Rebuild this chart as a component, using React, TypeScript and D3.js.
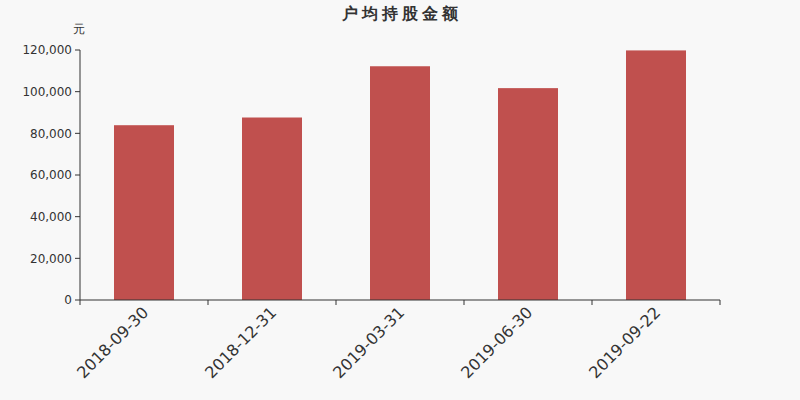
import React from "react";
import * as d3 from "d3";

const categories = ["2018-09-30", "2018-12-31", "2019-03-31", "2019-06-30", "2019-09-22"];
const values = [83900, 87600, 112200, 101700, 119800];
const yTicks = [0, 20000, 40000, 60000, 80000, 100000, 120000];

export default function App() {
  const W = 800, H = 400;
  const left = 80, right = 720, top = 50, bottom = 300;
  const x = d3.scaleBand<string>().domain(categories).range([left, right]).paddingInner(0).paddingOuter(0);
  const y = d3.scaleLinear().domain([0, 120000]).range([bottom, top]);
  const barW = 60;
  const fmt = d3.format(",");
  const font = "DejaVu Sans, sans-serif";
  const edges = categories.map((c) => x(c)!).concat([right]);
  return (
    <svg width={W} height={H} style={{ position: "absolute", left: 0, top: 0, background: "#f8f8f8" }}>
      <rect x={0} y={0} width={W} height={H} fill="#f8f8f8" />
      <text x={402} y={19} textAnchor="middle" fontFamily={font} fontSize={16} fontWeight="bold" letterSpacing={4} fill="#333">户均持股金额</text>
      <text x={79} y={33} textAnchor="middle" fontFamily={font} fontSize={12} fill="#333">元</text>
      {categories.map((c, i) => {
        const cx = x(c)! + x.bandwidth() / 2;
        return (
          <rect key={c} x={cx - barW / 2} y={y(values[i])} width={barW} height={bottom - y(values[i])} fill="#c0504e" />
        );
      })}
      <line x1={left} x2={left} y1={top} y2={bottom} stroke="#333" />
      {yTicks.map((t) => (
        <g key={t}>
          <line x1={left - 5} x2={left} y1={y(t)} y2={y(t)} stroke="#333" />
          <text x={left - 8} y={y(t)} dy="0.35em" textAnchor="end" fontFamily={font} fontSize={12} fill="#333">{fmt(t)}</text>
        </g>
      ))}
      <line x1={left} x2={right} y1={bottom} y2={bottom} stroke="#333" />
      {edges.map((e, i) => (
        <line key={i} x1={e} x2={e} y1={bottom} y2={bottom + 5} stroke="#333" />
      ))}
      {categories.map((c) => {
        const cx = x(c)! + x.bandwidth() / 2;
        return (
          <text key={c} transform={`translate(${cx - 3},${bottom + 5}) rotate(-45)`} textAnchor="end" dy="0.75em" fontFamily={font} fontSize={16} fill="#333">{c}</text>
        );
      })}
    </svg>
  );
}
